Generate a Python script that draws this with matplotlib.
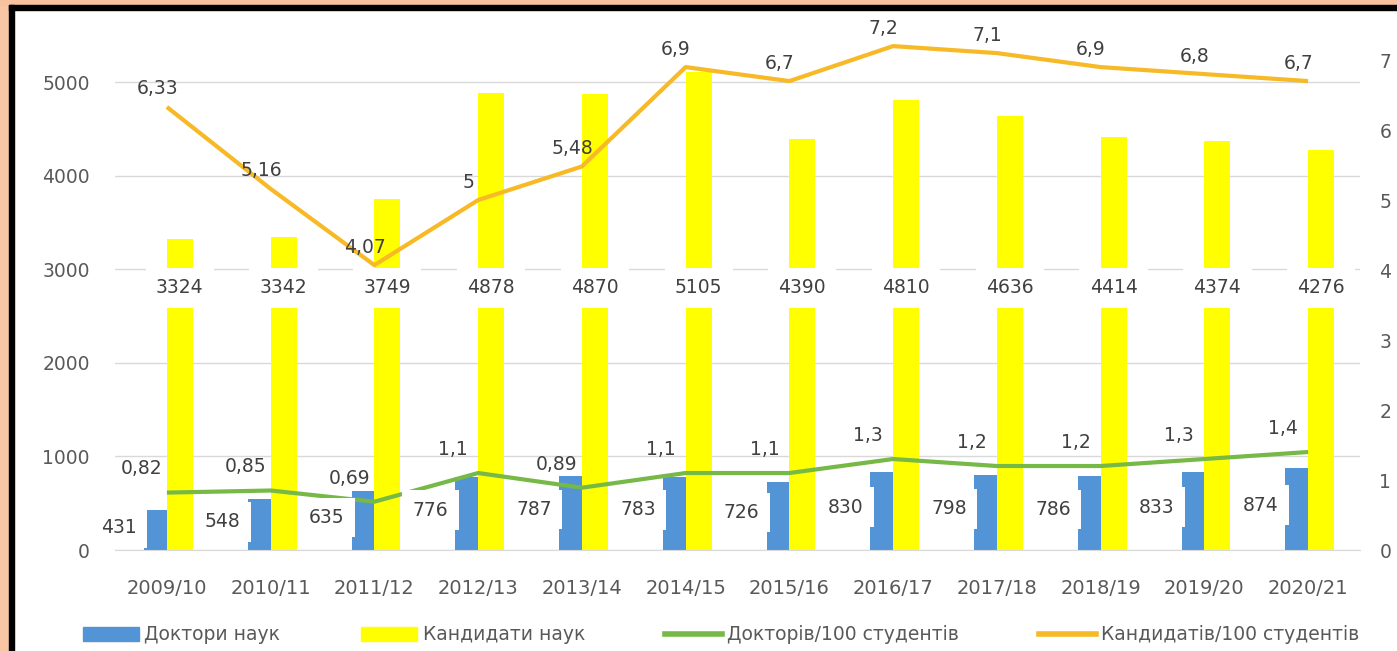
import numpy as np
import matplotlib.pyplot as plt
from matplotlib.patches import Rectangle, Patch
from matplotlib.lines import Line2D

# ============================
# Дані
# ============================
years = ["2009/10", "2010/11", "2011/12", "2012/13", "2013/14", "2014/15",
         "2015/16", "2016/17", "2017/18", "2018/19", "2019/20", "2020/21"]
doctors = [431, 548, 635, 776, 787, 783, 726, 830, 798, 786, 833, 874]
candidates = [3324, 3342, 3749, 4878, 4870, 5105, 4390, 4810, 4636, 4414, 4374, 4276]
doc_per100 = [0.82, 0.85, 0.69, 1.1, 0.89, 1.1, 1.1, 1.3, 1.2, 1.2, 1.3, 1.4]
cand_per100 = [6.33, 5.16, 4.07, 5, 5.48, 6.9, 6.7, 7.2, 7.1, 6.9, 6.8, 6.7]

left_ticks = [0, 1000, 2000, 3000, 4000, 5000]
right_ticks = [0, 1, 2, 3, 4, 5, 6, 7]

series_names = ["Доктори наук", "Кандидати наук",
                "Докторів/100 студентів", "Кандидатів/100 студентів"]

c_blue = "#5294D6"
c_yellow = "#FFFF00"
c_green = "#76B947"
c_orange = "#F7B925"
c_text = "#595959"
c_lbl = "#404040"


def coma(v):
    return f"{v:g}".replace(".", ",")


W, H = 1397, 651
fig = plt.figure(figsize=(W / 100, H / 100), dpi=100, facecolor="white")

# рамка
fig.patches.append(Rectangle((0, 0), 9 / W, 1, transform=fig.transFigure,
                             color="#F8C6A5", zorder=0))
fig.patches.append(Rectangle((0, 1 - 5 / H), 1, 5 / H, transform=fig.transFigure,
                             color="#F8C29E", zorder=0))
fig.patches.append(Rectangle((9 / W, 0), 5 / W, 1 - 5 / H, transform=fig.transFigure,
                             color="black", zorder=1))
fig.patches.append(Rectangle((9 / W, 1 - 10 / H), 1, 5 / H, transform=fig.transFigure,
                             color="black", zorder=1))

ax = fig.add_axes([115 / W, 101 / H, 1245 / W, 520 / H])
ax.patch.set_alpha(0)
x = np.arange(len(years))

ax.bar(x - 0.11, doctors, 0.22, color=c_blue, zorder=2)
ax.bar(x + 0.125, candidates, 0.25, color=c_yellow, zorder=2)

ax.set_xlim(-0.5, len(years) - 0.5)
ax.set_ylim(0, 5556)
ax.set_yticks(left_ticks)
ax.set_xticks(x)
ax.set_xticklabels(years)
ax.yaxis.grid(True, color="#D9D9D9", lw=1)
ax.set_axisbelow(True)
for s in ["left", "right", "top"]:
    ax.spines[s].set_visible(False)
ax.spines["bottom"].set_color("#D9D9D9")
ax.tick_params(axis="y", length=0, pad=18, labelsize=13.5, labelcolor=c_text)
ax.tick_params(axis="x", length=0, pad=21, labelsize=14, labelcolor=c_text)

ax2 = ax.twinx()
ax2.set_ylim(0, 7.43)
ax2.set_yticks(right_ticks)
for s in ax2.spines.values():
    s.set_visible(False)
ax2.tick_params(axis="y", length=0, pad=14, labelsize=13.5, labelcolor=c_text)

ax2.plot(x, doc_per100, color=c_green, lw=3, zorder=2, solid_capstyle="butt")
ax2.plot(x, cand_per100, color=c_orange, lw=3, zorder=2, solid_capstyle="butt")

box = dict(boxstyle="square,pad=0.55", fc="white", ec="none")
for i in range(len(years)):
    ax2.text(i - 0.46, 0.55 * doctors[i], str(doctors[i]), transform=ax.transData,
             ha="center", va="center", fontsize=13.5, color=c_lbl, bbox=box, zorder=4)
    ax2.text(i + 0.125, 2800, str(candidates[i]), transform=ax.transData,
             ha="center", va="center", fontsize=13.5, color=c_lbl, bbox=box, zorder=4)
    ax2.annotate(coma(doc_per100[i]), (i, doc_per100[i]), xytext=(-18, 17),
                 textcoords="offset points", ha="center", va="center",
                 fontsize=13.5, color=c_lbl, zorder=5)
    ax2.annotate(coma(cand_per100[i]), (i, cand_per100[i]), xytext=(-7, 13),
                 textcoords="offset points", ha="center", va="center",
                 fontsize=13.5, color=c_lbl, zorder=5)

handles = [Patch(color=c_blue), Patch(color=c_yellow),
           Line2D([], [], color=c_green, lw=4), Line2D([], [], color=c_orange, lw=4)]
fig.legend(handles, series_names, loc="center", ncol=4, mode="expand",
           bbox_to_anchor=(75 / W, 0, 1292 / W, 32 / H), frameon=False,
           handlelength=3.0, handleheight=0.75, handletextpad=0.3,
           fontsize=13.5, labelcolor=c_text, borderaxespad=0)

fig.savefig("out.png", dpi=100, facecolor="white")
